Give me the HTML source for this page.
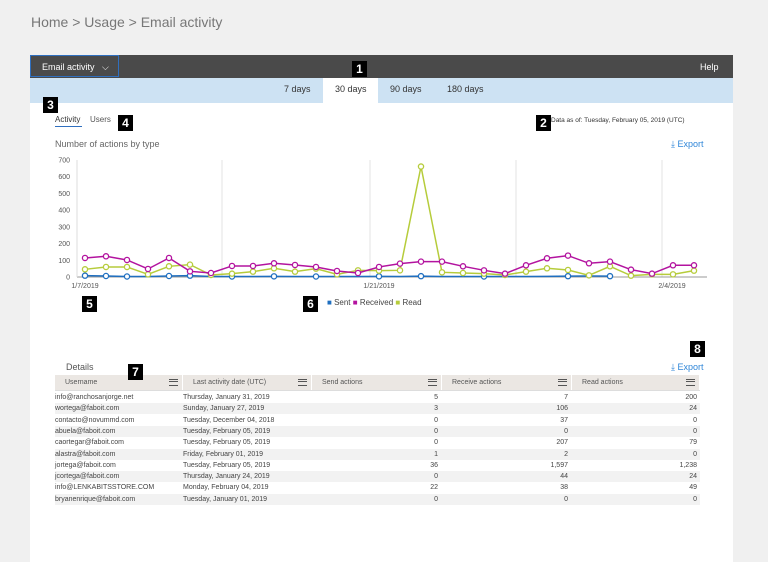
<!DOCTYPE html>
<html><head><meta charset="utf-8"><style>
body{margin:0;width:768px;height:562px;background:#f0f0f0;font-family:"Liberation Sans",sans-serif;position:relative;overflow:hidden}
.a{position:absolute;white-space:nowrap}
.m{position:absolute;background:#000;color:#fff;font-weight:bold;font-size:12px;text-align:center;line-height:16px;width:15px;height:16px}
.th{position:absolute;top:375px;height:15px;background:#ebe7e3;font-size:7px;color:#555;line-height:15px;padding-left:10px;box-sizing:border-box;border-right:1px solid #fff}
.hb{position:absolute;right:4px;top:4px;width:9px;height:7px;border-top:1.5px solid #555;border-bottom:1.5px solid #555;box-sizing:border-box}
.hb:after{content:"";position:absolute;left:0;right:0;top:1.2px;border-top:1.5px solid #555}
.r{position:absolute;left:55px;width:645px;height:11px;font-size:7px;color:#444;line-height:11px}
.r span{position:absolute}
</style></head><body>
<div class="a" style="left:31px;top:14px;font-size:14px;color:#777">Home &gt; Usage &gt; Email activity</div>
<div class="a" style="left:30px;top:55px;width:703px;height:507px;background:#fff"></div>
<div class="a" style="left:30px;top:55px;width:703px;height:23px;background:#4a4a4a"></div>
<div class="a" style="left:30px;top:55px;width:89px;height:22px;border:1px solid #2f6fbf;color:#fff;font-size:9px;line-height:22px;padding-left:11px;box-sizing:border-box">Email activity &nbsp;&nbsp;⌵</div>
<div class="a" style="left:700px;top:62px;color:#fff;font-size:9px">Help</div>
<div class="a" style="left:30px;top:78px;width:703px;height:25px;background:#cde2f3"></div>
<div class="a" style="left:323px;top:78px;width:55px;height:25px;background:#fff"></div>
<div class="a" style="left:284px;top:84px;font-size:9px;color:#333">7 days</div>
<div class="a" style="left:335px;top:84px;font-size:9px;color:#333">30 days</div>
<div class="a" style="left:390px;top:84px;font-size:9px;color:#333">90 days</div>
<div class="a" style="left:447px;top:84px;font-size:9px;color:#333">180 days</div>
<div class="a" style="left:55px;top:115px;font-size:8px;color:#333">Activity</div>
<div class="a" style="left:55px;top:126px;width:27px;height:1px;background:#2f6fbf"></div>
<div class="a" style="left:90px;top:115px;font-size:8px;color:#555">Users</div>
<div class="a" style="left:551px;top:117px;font-size:6.5px;color:#333">Data as of: Tuesday, February 05, 2019 (UTC)</div>
<div class="a" style="left:55px;top:139px;font-size:9px;color:#666">Number of actions by type</div>
<div class="a" style="left:671px;top:139px;font-size:9px;color:#2f86d8">⤓ Export</div>
<svg class="a" style="left:0;top:0" width="768" height="562" id="ch" font-family="Liberation Sans" font-size="7" fill="#555"></svg>
<div class="a" style="left:327px;top:298px;font-size:8px;color:#444"><span style="color:#1f6fc0">■</span> Sent <span style="color:#b3139f">■</span> Received <span style="color:#b6cc3b">■</span> Read</div>
<div class="a" style="left:66px;top:362px;font-size:9px;color:#555">Details</div>
<div class="a" style="left:671px;top:362px;font-size:9px;color:#2f86d8">⤓ Export</div>
<div class="a" style="left:55px;top:390px;width:645px;height:1px;background:#ddd"></div>
<div class="th" style="left:55px;width:128px">Username<div class="hb"></div></div>
<div class="th" style="left:183px;width:129px">Last activity date (UTC)<div class="hb"></div></div>
<div class="th" style="left:312px;width:130px">Send actions<div class="hb"></div></div>
<div class="th" style="left:442px;width:130px">Receive actions<div class="hb"></div></div>
<div class="th" style="left:572px;width:128px">Read actions<div class="hb"></div></div>
<div id="rows"></div>
<div class="m" style="left:352px;top:61px">1</div>
<div class="m" style="left:536px;top:115px">2</div>
<div class="m" style="left:43px;top:97px">3</div>
<div class="m" style="left:118px;top:115px">4</div>
<div class="m" style="left:82px;top:296px">5</div>
<div class="m" style="left:303px;top:296px">6</div>
<div class="m" style="left:128px;top:364px">7</div>
<div class="m" style="left:690px;top:341px">8</div>
<script>
var s='',Y=v=>277-v*117/700,X=i=>85+21*i;
[0,100,200,300,400,500,600,700].forEach(v=>{s+=`<text x="70" y="${Y(v)+2.5}" text-anchor="end">${v}</text>`});
[222,370,516,662].forEach(x=>{s+=`<line x1="${x}" y1="160" x2="${x}" y2="277" stroke="#e3e3e3"/>`});
s+=`<line x1="77" y1="277" x2="707" y2="277" stroke="#999"/><line x1="77" y1="160" x2="77" y2="277" stroke="#ddd"/>`;
s+=`<text x="85" y="288" text-anchor="middle">1/7/2019</text><text x="379" y="288" text-anchor="middle">1/21/2019</text><text x="672" y="288" text-anchor="middle">2/4/2019</text>`;
var rec=[114,124,102,48,114,34,24,66,66,82,72,60,36,24,60,80,92,92,64,40,20,70,112,128,82,92,44,20,70,70];
var rd=[46,60,60,16,64,74,12,20,32,52,32,50,16,40,38,40,661,28,24,20,12,32,52,42,10,64,8,16,16,38];
var se=[8,6,3,3,6,8,3,3,3,4,3,3,3,3,4,3,5,3,3,3,3,3,4,5,6,5];
function ser(d,c,mk){var p=d.map((v,i)=>X(i)+','+Y(v)).join(' ');s+=`<polyline points="${p}" fill="none" stroke="${c}" stroke-width="1.5"/>`;d.forEach((v,i)=>{if(!mk||mk.includes(i))s+=`<circle cx="${X(i)}" cy="${Y(v)}" r="2.6" fill="#fff" stroke="${c}" stroke-width="1.3"/>`})}
ser(se,'#1f6fc0',[0,1,2,4,5,7,9,11,14,16,19,23,25]);ser(rd,'#b6cc3b');ser(rec,'#b3139f');
document.getElementById('ch').innerHTML=s;
var R=[["info@ranchosanjorge.net","Thursday, January 31, 2019",5,7,200],["wortega@faboit.com","Sunday, January 27, 2019",3,106,24],["contacto@novummd.com","Tuesday, December 04, 2018",0,37,0],["abuela@faboit.com","Tuesday, February 05, 2019",0,0,0],["caortegar@faboit.com","Tuesday, February 05, 2019",0,207,79],["alastra@faboit.com","Friday, February 01, 2019",1,2,0],["jortega@faboit.com","Tuesday, February 05, 2019",36,"1,597","1,238"],["jcortega@faboit.com","Thursday, January 24, 2019",0,44,24],["info@LENKABITSSTORE.COM","Monday, February 04, 2019",22,38,49],["bryanenrique@faboit.com","Tuesday, January 01, 2019",0,0,0]];
var h='';R.forEach((r,i)=>{h+=`<div class="r" style="top:${392+i*11.3}px;background:${i%2?'#f2f2f2':'#fff'}"><span style="left:0">${r[0]}</span><span style="left:128px">${r[1]}</span><span style="right:262px">${r[2]}</span><span style="right:132px">${r[3]}</span><span style="right:3px">${r[4]}</span></div>`});
document.getElementById('rows').innerHTML=h;
</script>
</body></html>
